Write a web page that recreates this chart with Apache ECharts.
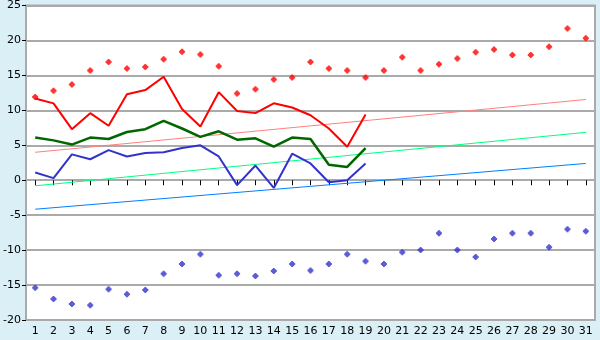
<!DOCTYPE html>
<html><head><meta charset="utf-8">
<script src="https://cdn.jsdelivr.net/npm/echarts@6/dist/echarts.min.js"></script>
<style>html,body{margin:0;padding:0;background:#daeff6;}#c{width:600px;height:340px;}</style>
</head><body><div id="c"></div>
<script>
var days = ['1','2','3','4','5','6','7','8','9','10','11','12','13','14','15','16','17','18','19','20','21','22','23','24','25','26','27','28','29','30','31'];
var yTicks = [-20, 25, 5];
var maxLine = [11.7, 11.0, 7.3, 9.6, 7.8, 12.3, 12.9, 14.8, 10.2, 7.7, 12.6, 9.9, 9.6, 11.0, 10.4, 9.3, 7.4, 4.8, 9.4];
var meanLine = [6.1, 5.7, 5.1, 6.1, 5.9, 6.9, 7.3, 8.5, 7.4, 6.2, 7.0, 5.8, 6.0, 4.8, 6.1, 5.9, 2.2, 1.9, 4.6];
var minLine = [1.1, 0.3, 3.7, 3.0, 4.3, 3.4, 3.9, 4.0, 4.6, 5.0, 3.4, -0.7, 2.1, -1.1, 3.8, 2.4, -0.3, 0.0, 2.4];
var recordHigh = [11.9, 12.8, 13.7, 15.7, 16.9, 16.0, 16.2, 17.3, 18.4, 18.0, 16.3, 12.4, 13.0, 14.4, 14.7, 16.9, 16.0, 15.7, 14.7, 15.7, 17.6, 15.7, 16.6, 17.4, 18.3, 18.7, 17.9, 17.9, 19.1, 21.7, 20.3];
var recordLow = [-15.4, -17.0, -17.7, -17.9, -15.6, -16.3, -15.7, -13.4, -12.0, -10.6, -13.6, -13.4, -13.7, -13.0, -12.0, -12.9, -12.0, -10.6, -11.6, -12.0, -10.3, -10.0, -7.6, -10.0, -11.0, -8.4, -7.6, -7.6, -9.6, -7.0, -7.3];
var normHigh = [4.0, 11.55];
var normMean = [-0.8, 6.85];
var normLow = [-4.15, 2.4];

var plus = 'path://M2,0H4V1H5V2H6V4H5V5H4V6H2V5H1V4H0V2H1V1H2Z';
function ends(arr){ return [[days[0], arr[0]], [days[days.length-1], arr[1]]]; }

var chart = echarts.init(document.getElementById('c'));
chart.setOption({
  animation: false,
  backgroundColor: '#daeff6',
  grid: {left: 26, top: 5, right: 5, bottom: 20, show: true, backgroundColor: '#ffffff', borderColor: '#aaaaaa', borderWidth: 2},
  xAxis: {
    type: 'category', data: days, boundaryGap: true,
    axisLine: {show: false},
    axisTick: {show: true, alignWithLabel: true, length: 5, lineStyle: {color: '#000'}},
    axisLabel: {color: '#000', fontFamily: 'DejaVu Sans', fontSize: 11, margin: 6, interval: 0},
    splitLine: {show: false}
  },
  yAxis: {
    type: 'value', min: yTicks[0], max: yTicks[1], interval: yTicks[2],
    axisLine: {show: false},
    axisTick: {show: true, length: 4, lineStyle: {color: '#000'}},
    axisLabel: {color: '#000', fontFamily: 'DejaVu Sans', fontSize: 11, margin: 5},
    splitLine: {show: true, lineStyle: {color: '#aaaaaa', width: 2}}
  },
  series: [
    {type: 'line', data: ends(normHigh), symbol: 'none', lineStyle: {color: '#ff8080', width: 1}, z: 1},
    {type: 'line', data: ends(normMean), symbol: 'none', lineStyle: {color: '#00ff80', width: 1}, z: 1},
    {type: 'line', data: ends(normLow), symbol: 'none', lineStyle: {color: '#0080ff', width: 1}, z: 1},
    {type: 'line', data: maxLine, symbol: 'none', lineStyle: {color: '#ff0000', width: 2}, z: 3},
    {type: 'line', data: meanLine, symbol: 'none', lineStyle: {color: '#006600', width: 2.5}, z: 3},
    {type: 'line', data: minLine, symbol: 'none', lineStyle: {color: '#3333cc', width: 2}, z: 3},
    {type: 'scatter', data: recordHigh, symbol: plus, symbolSize: 6, itemStyle: {color: '#ff0000'}, z: 4},
    {type: 'scatter', data: recordLow, symbol: plus, symbolSize: 6, itemStyle: {color: '#3333cc'}, z: 4}
  ]
});
</script></body></html>
